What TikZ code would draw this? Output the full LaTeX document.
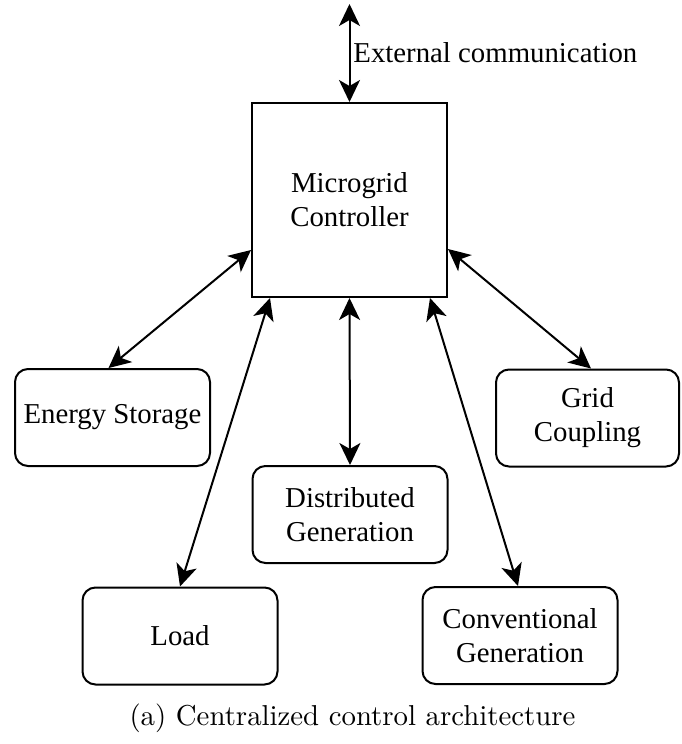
\documentclass[tikz,border=0pt]{standalone}
\usepackage{fontspec}
\setmainfont{Liberation Serif}
\newfontfamily\boxfont{Liberation Serif}
\newfontfamily\capfont{lmroman10-regular.otf}
\usetikzlibrary{arrows.meta}
\begin{document}
\begin{tikzpicture}[x=0.5pt,y=-0.5pt,
  every node/.style={font=\boxfont\fontsize{14.4}{17}\selectfont},
  blk/.style={draw,line width=1pt,rounded corners=6.5pt,minimum width=97.5pt,minimum height=48.5pt,align=center,inner sep=0pt},
  ctrl/.style={draw,line width=1pt,minimum width=97.5pt,minimum height=97pt,align=center,inner sep=0pt},
  link/.style={line width=1pt,{Stealth[length=11pt,width=10.5pt,inset=3pt]}-{Stealth[length=11pt,width=10.5pt,inset=3pt]}}]
\useasboundingbox (0,0) rectangle (681,744);
\node[ctrl] (main) at (349.5,200) {Microgrid\\Controller};
\node[blk] (es) at (112.5,417.5) {Energy Storage};
\node[blk,minimum width=91.5pt] (grid) at (587.5,418) {Grid\\Coupling};
\node[blk] (dist) at (350,514.5) {Distributed\\Generation};
\node[blk] (load) at (180,636) {Load};
\node[blk] (conv) at (520,635.5) {Conventional\\Generation};
\coordinate (ext) at (349.5,4);
\draw[link] (ext) -- (main.north);
\node[anchor=base west,inner sep=0pt] (extlbl) at (353,62) {External communication};
\draw[link] ([yshift=-25pt]main.west) -- ([xshift=-2pt]es.north);
\draw[link] ([xshift=-39.75pt]main.south) -- (load.north);
\draw[link] (main.south) -- (dist.north);
\draw[link] ([xshift=40.25pt]main.south) -- ([xshift=-1pt]conv.north);
\draw[link] ([yshift=-24.5pt]main.east) -- ([xshift=1.75pt]grid.north);
\node[font=\capfont\fontsize{14.4}{17}\selectfont,anchor=base,inner sep=0pt] (cap) at (352.5,725) {(a) Centralized control architecture};
\end{tikzpicture}
\end{document}
